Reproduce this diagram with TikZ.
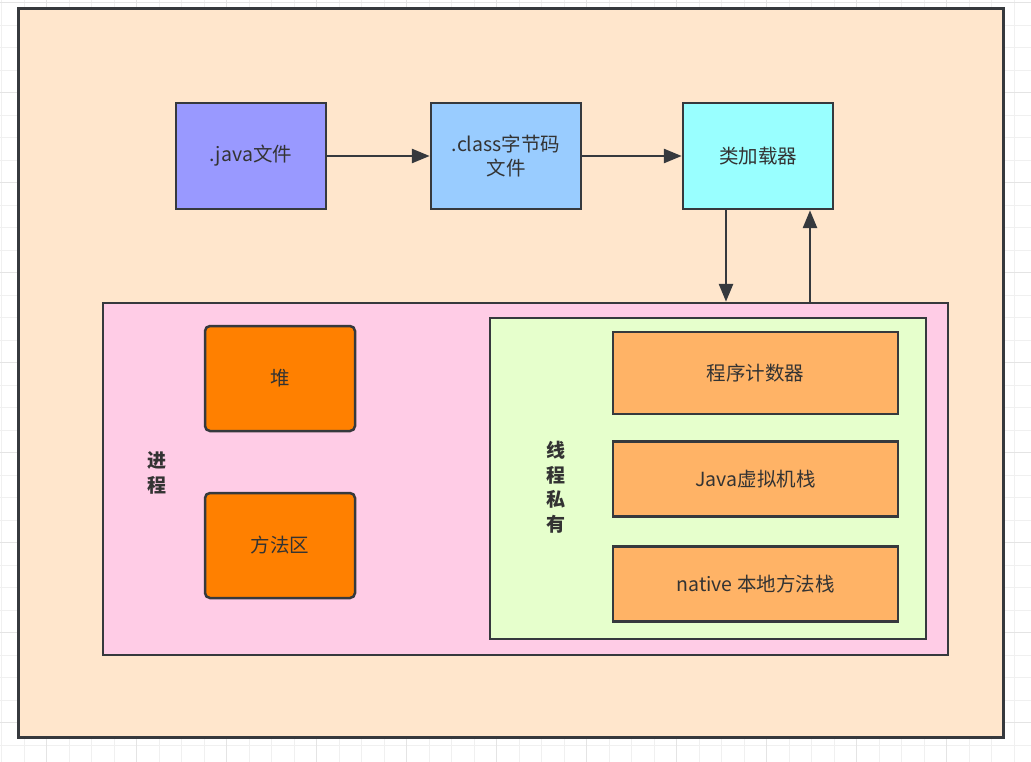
\documentclass[tikz,border=0pt]{standalone}
\usepackage{fontspec}
\setmainfont{Noto Sans CJK SC}
\usetikzlibrary{arrows.meta,calc}
\definecolor{strokec}{HTML}{36393D}
\definecolor{textc}{HTML}{333333}
\definecolor{outerc}{HTML}{FFE6CC}
\definecolor{javac}{HTML}{9999FF}
\definecolor{classc}{HTML}{99CCFF}
\definecolor{loaderc}{HTML}{99FFFF}
\definecolor{pinkc}{HTML}{FFCCE6}
\definecolor{heapc}{HTML}{FF8000}
\definecolor{greenc}{HTML}{E6FFCC}
\definecolor{stackc}{HTML}{FFB366}
\definecolor{gridminor}{HTML}{F0F0F0}
\definecolor{gridmajor}{HTML}{E4E4E4}
\tikzset{
  box/.style={draw=strokec, line width=2.5pt, inner sep=0pt, align=center,
    text=textc, font=\fontsize{19.5}{24}\selectfont},
  container/.style={draw=strokec, line width=2.5pt, inner sep=0pt},
  vlabel/.style={text=textc, align=center, inner sep=0pt,
    font=\fontsize{19}{24.5}\selectfont\bfseries},
  arr/.style={draw=strokec, line width=2.8pt, -{Triangle[length=18pt,width=14pt]}},
}
\begin{document}
\begin{tikzpicture}[x=1pt,y=-1pt]
\useasboundingbox (0,0) rectangle (1031,762);
\fill[white] (0,0) rectangle (1031,762);
% grid
\foreach \k in {0,...,45}{
  \draw[gridminor, line width=1pt] ({1.7+22.5*\k},0) -- ({1.7+22.5*\k},762);
}
\foreach \k in {0,...,33}{
  \draw[gridminor, line width=1pt] (0,{2.7+22.5*\k}) -- (1031,{2.7+22.5*\k});
}
\foreach \k in {0,...,11}{
  \draw[gridmajor, line width=1pt] ({46.7+90*\k},0) -- ({46.7+90*\k},762);
}
\foreach \k in {0,...,8}{
  \draw[gridmajor, line width=1pt] (0,{2.7+90*\k}) -- (1031,{2.7+90*\k});
}
% outer container
\node[container, fill=outerc, line width=3pt, minimum width=985pt, minimum height=728pt] (outer) at (510.5,373) {};
% top row
\node[box, fill=javac, minimum width=150pt, minimum height=106pt] (java) at (251,156) {.java文件};
\node[box, fill=classc, minimum width=150pt, minimum height=106pt] (class) at (506,156) {.class字节码\\文件};
\node[box, fill=loaderc, minimum width=150pt, minimum height=106pt] (loader) at (758,156) {类加载器};
% process box
\node[container, fill=pinkc, minimum width=845pt, minimum height=352pt] (proc) at (525.5,479) {};
\node[box, fill=heapc, rounded corners=5pt, minimum width=150pt, minimum height=105pt] (heap) at (280,378.5) {堆};
\node[box, fill=heapc, rounded corners=5pt, minimum width=150pt, minimum height=105pt] (method) at (280,545.5) {方法区};
\node[vlabel] (proclabel) at (157,473) {进\\程};
% thread private
\node[container, fill=greenc, minimum width=436pt, minimum height=321pt] (thread) at (708,478.5) {};
\node[vlabel] (threadlabel) at (556,487) {线\\程\\私\\有};
\node[box, fill=stackc, minimum width=285pt, minimum height=82pt] (pc) at (755.5,373) {程序计数器};
\node[box, fill=stackc, minimum width=285pt, minimum height=75pt] (jvms) at (755.5,479) {Java虚拟机栈};
\node[box, fill=stackc, minimum width=285pt, minimum height=75pt] (nms) at (755.5,584) {native 本地方法栈};
% connectors
\draw[arr] (java.east) -- (class.west);
\draw[arr] (class.east) -- (loader.west);
\draw[arr] ([xshift=-32pt]loader.south) -- ([xshift=-32pt]loader.south |- proc.north);
\draw[arr] ([xshift=52pt]loader.south |- proc.north) -- ([xshift=52pt]loader.south);
\end{tikzpicture}
\end{document}
